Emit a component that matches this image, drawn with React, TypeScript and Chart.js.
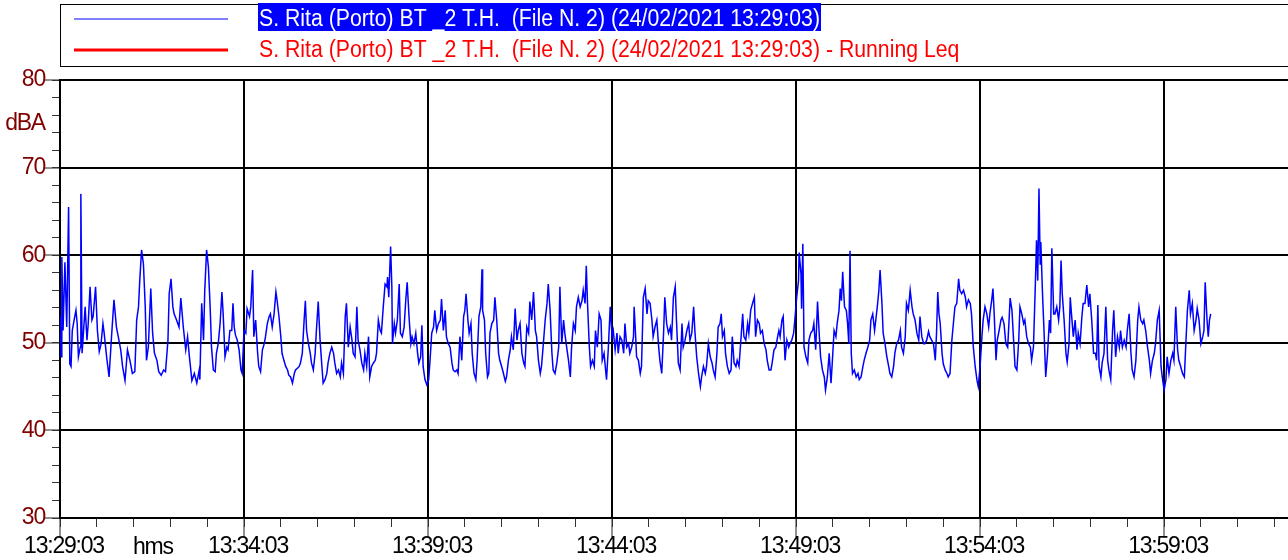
import React, { useEffect, useRef } from 'react';
import { Chart, registerables } from 'chart.js';

Chart.register(...registerables);

const seriesLabel = 'S. Rita (Porto) BT _2 T.H.  (File N. 2) (24/02/2021 13:29:03)';
const leqLabel = 'S. Rita (Porto) BT _2 T.H.  (File N. 2) (24/02/2021 13:29:03) - Running Leq';
const xUnitLabel = 'hms';
const xTickLabels = ['13:29:03', '13:34:03', '13:39:03', '13:44:03', '13:49:03', '13:54:03', '13:59:03'];
const xMajorSeconds = [0, 300, 600, 900, 1200, 1500, 1800];
const xMinorSeconds = [0, 60, 120, 180, 240, 300, 360, 420, 480, 540, 600, 660, 720, 780, 840, 900, 960, 1020, 1080, 1140, 1200, 1260, 1320, 1380, 1440, 1500, 1560, 1620, 1680, 1740, 1800, 1860, 1920, 1980];
const xMaxSeconds = 2002;
const yMajorValues = [30, 40, 50, 60, 70, 80];
const yMinorValues = [30, 32, 34, 36, 38, 40, 42, 44, 46, 48, 50, 52, 54, 56, 58, 60, 62, 64, 66, 68, 70, 72, 74, 76, 78, 80];
const yUnitLabel = 'dBA';
const yUnitAt = 75;

// [elapsed seconds since 13:29:03, level dBA]
const samples: Array<[number, number]> = [
  [0,53],[2,48.4],[3,59.8],[5,51.4],[8,59.2],[11,51.8],[14,65.5],[16,47.6],[18,47.3],[20,51.4],[23,52.6],[26,53.7],[28,52.2],[30,48.4],[33,49.5],[34,67],[36,48.8],[41,54.1],[44,50.3],[46,52.2],[49,56.4],[52,52.6],[54,53],[58,56.4],[61,51.4],[64,49],[67,49.9],[70,52.2],[72,51.1],[76,48.4],[80,46.1],[84,50.7],[88,54.9],[92,51.8],[95,50.7],[99,49.2],[102,47.3],[106,45.7],[110,49.2],[114,48],[118,46.5],[122,46.7],[125,52.6],[128,54.1],[130,57.1],[133,60.6],[136,59],[139,54.1],[141,48],[144,49.5],[148,56.2],[151,51.1],[154,48.8],[158,48],[161,46.7],[165,46.3],[169,46.9],[172,46.7],[176,50.3],[178,55.6],[181,57.3],[184,54.1],[186,53.3],[190,52.6],[194,51.8],[197,55.1],[201,51.8],[205,49.2],[208,50.7],[211,48.4],[215,45.7],[219,46.5],[223,45.4],[227,46.9],
  [228,45.8],[231,54.5],[234,50.3],[236,56],[239,60.6],[242,58.6],[245,53.7],[247,49.5],[250,46.9],[253,46.7],[255,48.8],[258,49.9],[261,52.2],[264,55.8],[266,53.3],[269,48.4],[272,49.5],[274,49.2],[277,51.4],[280,51.4],[282,54.5],[284,51.8],[286,50.9],[289,50.3],[292,49.2],[295,46.9],[297,46.5],[300,51.4],[303,51.1],[305,53.9],[309,53],[311,54.1],[314,58.3],[316,50.7],[319,52.6],[322,49],[324,47.3],[327,46.7],[330,49.2],[333,49.9],[335,50.7],[338,52.2],[341,53],[343,53.3],[346,51.8],[349,53.3],[352,55.8],[354,54.8],[357,53],[360,50.7],[362,48.8],[365,48],[368,47.3],[371,46.9],[373,46.3],[376,46.1],[379,45.4],[382,46.5],[384,46.9],[387,47.1],[390,47.3],[392,47.7],[395,48.8],[398,52.6],[400,54.8],[402,51.4],[405,49.9],[408,48.8],[410,47.7],[413,46.9],[416,48.8],[418,51.4],[421,54.7],[424,50.3],[427,47.3],[429,45.4],[432,45.8],[435,46.5],[437,47.7],[440,48.8],[443,49.5],[446,48.8],[448,47.7],[451,46.5],[454,46.9],[457,46.1],[459,47.7],[462,46.5],
  [465,53],[467,54.5],[470,49.5],[473,51.8],[476,50.3],[478,48.8],[481,48.4],[484,54.1],[486,50.3],[489,49.2],[492,47.7],[495,46.9],[497,48.8],[500,47.3],[503,50.7],[505,46.1],[508,47.3],[511,47.7],[514,48],[516,48.8],[519,52.6],[522,51.4],[524,51.1],[527,54.1],[530,56.7],[533,56.4],[534,57.5],[536,55.2],[539,61],[541,56.4],[542,49.9],[545,52.2],[547,51.1],[550,52.6],[553,56.7],[555,51.1],[558,50.7],[561,51.8],[564,55.2],[566,56.9],[569,53],[572,49.9],[574,50.7],[577,49.9],[580,51.1],[583,48.8],[585,47.7],[588,48.4],[590,52],[592,47.3],[595,45.8],[598,45.2],[601,45.8],[603,47.7],[606,51.1],[609,51.8],[611,53.7],[614,51.4],[617,52.2],[620,52.6],[622,55],[625,51.4],[628,53.7],[630,50.7],[633,49.9],[636,49.5],[639,47.7],[641,46.9],[644,46.7],[647,46.9],[649,46.5],[652,50.7],[655,48],[658,53],[660,53.7],[662,55.6],[665,52.6],[667,51.1],[670,52.2],[672,48.8],[675,46.5],[678,45.8],[680,48],[683,53],[686,54.1],[688,58.4],[689,53.7],[692,52.6],[694,48.8],[697,46.1],[699,46.5],
  [701,51.1],[704,52.2],[707,52.6],[709,55.2],[712,52.6],[715,48.8],[717,48],[720,47.3],[723,46.5],[726,45.6],[728,46.1],[731,48],[734,49.2],[736,50.7],[739,49.2],[742,53.9],[745,50.3],[747,51.4],[750,52.2],[753,48.8],[756,47.7],[758,47.3],[761,51.8],[764,51.1],[766,54.7],[769,52.6],[772,55.8],[775,51.4],[777,50.7],[780,48],[783,46.5],[785,47.3],[788,49.9],[791,52.6],[794,54.5],[796,56.7],[799,53.7],[802,48.8],[804,46.9],[807,46.5],[810,47.7],[813,49.5],[815,56.4],[818,49.9],[821,52.6],[823,51.1],[826,49.5],[829,48],[832,46.1],[834,49.5],[837,52.2],[840,51.4],[842,54.1],[845,55.2],[848,54.1],[851,54.8],[853,56],[856,54.5],[858,58.8],[860,54.5],[863,49.5],[865,47.3],[868,48],[871,47.3],[873,51.4],[876,49.5],[879,53.3],[882,52.6],[884,48],[887,48.8],[890,46.5],[891,45.8],[894,49.5],[897,54.1],[900,50.7],[902,51.4],[905,49.2],[908,51.1],[910,48.8],[913,50.7],[916,50.3],[919,48.8],[921,52.2],[924,49.5],[927,49.9],[929,48.8],[932,49.5],[935,50.7],[936,54.1],
  [938,51.4],[940,48.4],[943,48],[946,46.5],[948,47.3],[951,55.2],[954,56.2],[957,53.3],[959,54.8],[962,54.5],[965,52.6],[967,50.7],[970,51.8],[973,52.6],[976,49.5],[978,48],[981,46.5],[984,51.1],[986,55.2],[989,52.2],[992,51.1],[995,51.8],[997,50.3],[1000,55.2],[1003,56.4],[1005,52.6],[1008,47.7],[1011,46.9],[1014,52.2],[1016,49.5],[1019,50.3],[1022,51.4],[1025,52.2],[1027,50.3],[1030,51.1],[1033,54.1],[1035,51.4],[1038,48.4],[1041,46.5],[1044,45],[1046,46.1],[1049,47.3],[1052,46.5],[1054,47.3],[1057,49.9],[1060,48.4],[1063,47.7],[1065,46.9],[1068,46.1],[1071,48.8],[1073,51.8],[1076,52.2],[1078,53.3],[1080,50.7],[1083,51.4],[1085,48.8],[1088,47.3],[1091,46.5],[1094,46.9],[1096,50.7],[1099,47.7],[1102,47.3],[1104,48],[1107,47.3],[1110,50.3],[1113,53.3],[1115,50.7],[1118,50.3],[1121,52.2],[1123,51.1],[1126,53.7],[1129,54.5],[1132,55.2],[1134,50.7],[1137,52.6],[1140,52.2],[1142,51.1],[1145,51.4],[1148,49.9],[1151,49.2],[1153,48],[1156,46.9],[1159,46.9],[1161,47.7],[1164,49.2],[1167,49.5],[1170,50.7],[1172,51.4],
  [1174,50.7],[1177,52.6],[1179,53],[1182,48],[1185,50.3],[1188,49.5],[1190,49.9],[1193,50.3],[1196,51.1],[1198,52.6],[1201,55.2],[1204,57.1],[1205,60.3],[1208,57.9],[1209,53.9],[1211,61.3],[1213,49.5],[1216,48.4],[1219,47.7],[1221,50.3],[1224,51.1],[1227,51.4],[1229,52.2],[1232,49.2],[1235,54.7],[1238,50.7],[1240,48.4],[1243,46.9],[1246,46.1],[1248,44.6],[1251,46.1],[1254,48.8],[1257,45.4],[1259,47.7],[1262,51.4],[1265,50.7],[1267,52.2],[1270,53.7],[1272,56.2],[1274,54.8],[1276,58.1],[1279,54.1],[1282,53.7],[1284,52.2],[1286,49.9],[1288,60.5],[1290,48.8],[1292,46.5],[1295,46.9],[1298,46.1],[1301,46.5],[1303,45.8],[1306,46.1],[1309,47.3],[1311,48],[1314,48.8],[1317,49.5],[1320,50.3],[1322,52.6],[1325,53.3],[1328,51.4],[1330,52.6],[1333,54.5],[1335,56],[1337,58.3],[1340,54.5],[1342,51.1],[1345,49.9],[1348,48.4],[1351,47.3],[1353,46.5],[1356,46.1],[1359,47.3],[1361,48.8],[1364,49.9],[1367,50.3],[1370,51.4],[1372,49.5],[1375,48.8],[1378,50.7],[1380,54.5],[1383,53.7],[1386,56],[1389,54.1],[1391,53.3],[1394,52.6],[1397,51.1],[1400,50.3],[1402,53],[1405,50.7],[1408,49.9],
  [1410,49.9],[1413,50.3],[1416,51.3],[1418,50.7],[1421,50.3],[1424,49.9],[1427,48],[1429,51.1],[1431,55.8],[1433,53.3],[1435,52.2],[1438,48.8],[1440,47.6],[1443,46.9],[1446,46.5],[1448,46.1],[1451,46.5],[1454,50.3],[1457,52.6],[1459,54.1],[1462,54.5],[1465,57.3],[1467,56],[1470,55.6],[1473,56],[1476,55.2],[1478,54.1],[1481,54.9],[1484,54.5],[1486,53.3],[1489,49.5],[1492,47.3],[1495,45.7],[1497,45],[1500,47.3],[1503,50.7],[1505,52.6],[1508,54.1],[1511,53.3],[1514,51.8],[1516,53.3],[1519,54.9],[1521,56.2],[1523,53.3],[1526,48],[1528,50.3],[1531,51.4],[1534,52.6],[1536,52.9],[1539,52.2],[1542,49.9],[1545,49.5],[1547,52.2],[1549,55.1],[1552,53.7],[1554,51.1],[1557,47.3],[1560,46.9],[1563,50.3],[1565,54.1],[1568,53.3],[1571,52.2],[1573,52.6],[1576,50.7],[1579,49.9],[1582,49.5],[1584,48],[1587,49.5],[1590,56.4],[1592,61.7],[1594,57.1],[1596,67.6],[1598,59],[1599,61.5],[1602,55.2],[1604,51.8],[1607,46.1],[1610,48.8],[1613,52.6],[1615,51.1],[1617,60.8],[1620,53.3],[1622,53.3],[1625,54.1],[1628,52.6],[1630,54.1],[1632,59.4],[1634,55.6],[1637,52.6],[1640,48.8],[1642,47.8],[1645,49.9],
  [1647,55.2],[1649,53.3],[1652,50.7],[1655,52.6],[1658,49.2],[1660,51.1],[1663,49.9],[1666,53],[1668,54.5],[1671,54.5],[1674,56.6],[1677,54.1],[1679,55.6],[1682,52.6],[1685,48.8],[1688,48.8],[1690,48],[1692,54.3],[1694,47.3],[1697,46.1],[1699,47.7],[1702,48.8],[1705,54.1],[1708,48],[1710,46.9],[1713,45.8],[1716,51.4],[1718,53.7],[1721,48.4],[1724,50.7],[1727,49.5],[1729,51.4],[1732,49.5],[1735,50.3],[1738,49.5],[1740,51.4],[1743,53.3],[1746,48.8],[1748,46.9],[1751,46.1],[1754,48],[1757,52.6],[1759,54.1],[1762,52.6],[1765,52.2],[1767,52.6],[1770,51.4],[1773,49.5],[1776,48],[1778,46.5],[1781,48],[1784,48.8],[1786,49.9],[1789,52.6],[1792,53.7],[1795,47.3],[1797,46.1],[1800,44.6],[1803,45.8],[1805,48.4],[1808,46.5],[1811,48],[1814,48.8],[1816,48],[1819,54.1],[1822,49.2],[1824,48],[1827,47.3],[1830,46.5],[1833,46.1],[1835,49.2],[1838,53.7],[1841,56],[1843,53.3],[1846,54.5],[1849,51.4],[1852,52.6],[1854,53.9],[1857,52.6],[1860,49.9],[1863,50.7],[1865,51.4],[1867,56.9],[1870,52.6],[1872,50.7],[1874,52.6],[1876,53.3]
];

const FONT_FAMILY = '"Liberation Sans", Arial, sans-serif';
const TICK_SPACING = '-1.2px';

const legendPlugin = {
  id: 'soundLegend',
  beforeDraw(chart: any) {
    const ctx = chart.ctx;
    ctx.save();
    ctx.fillStyle = '#ffffff';
    ctx.fillRect(0, 0, chart.width, chart.height);
    ctx.restore();
    (ctx as any).letterSpacing = TICK_SPACING;
  },
  afterDraw(chart: any) {
    const ctx = chart.ctx;
    const ds = chart.data.datasets;
    ctx.save();
    (ctx as any).letterSpacing = '0px';
    ctx.lineWidth = 1;
    ctx.strokeStyle = '#000000';
    ctx.strokeRect(60.5, 4.5, 1400, 62);

    ctx.strokeStyle = ds[0].borderColor;
    ctx.lineWidth = 1;
    ctx.beginPath();
    ctx.moveTo(74, 19);
    ctx.lineTo(228, 19);
    ctx.stroke();

    ctx.strokeStyle = ds[1].borderColor;
    ctx.lineWidth = 3;
    ctx.beginPath();
    ctx.moveTo(74, 50);
    ctx.lineTo(228, 50);
    ctx.stroke();

    ctx.font = '23px ' + FONT_FAMILY;
    ctx.textBaseline = 'alphabetic';
    ctx.textAlign = 'left';
    const w0 = ctx.measureText(ds[0].label).width;
    const sx = 561 / w0;

    ctx.fillStyle = '#0000ff';
    ctx.fillRect(258, 3, 563, 28);
    ctx.save();
    ctx.translate(259, 26);
    ctx.scale(sx, 1);
    ctx.fillStyle = '#ffffff';
    ctx.fillText(ds[0].label, 0, 0);
    ctx.restore();

    ctx.save();
    ctx.translate(259, 57);
    ctx.scale(sx, 1);
    ctx.fillStyle = '#ff0000';
    ctx.fillText(ds[1].label, 0, 0);
    ctx.restore();

    (ctx as any).letterSpacing = TICK_SPACING;
    ctx.font = '23px ' + FONT_FAMILY;
    ctx.fillStyle = '#000000';
    ctx.fillText(xUnitLabel, 133, 554);
    ctx.restore();
  },
};

export default function App() {
  const canvasRef = useRef<HTMLCanvasElement | null>(null);

  useEffect(() => {
    if (!canvasRef.current) return;
    const tickFont = { family: FONT_FAMILY, size: 23 };
    const chart = new Chart(canvasRef.current, {
      type: 'line',
      data: {
        datasets: [
          {
            label: seriesLabel,
            data: samples.map(([t, v]) => ({ x: t, y: v })),
            borderColor: '#0000ff',
            borderWidth: 1.5,
            pointRadius: 0,
            tension: 0,
            fill: false,
            xAxisID: 'x',
            yAxisID: 'y',
          },
          {
            label: leqLabel,
            data: [],
            borderColor: '#ff0000',
            borderWidth: 3,
            pointRadius: 0,
            fill: false,
            xAxisID: 'x',
            yAxisID: 'y',
          },
        ],
      },
      options: {
        responsive: false,
        animation: false,
        devicePixelRatio: 1,
        layout: { padding: { top: 80, left: 0, right: 0, bottom: 0 } },
        plugins: { legend: { display: false }, tooltip: { enabled: false } },
        scales: {
          x: {
            type: 'linear',
            position: 'bottom',
            weight: 1,
            min: 0,
            max: xMaxSeconds,
            afterBuildTicks: (s: any) => {
              s.ticks = xMajorSeconds.map((v) => ({ value: v }));
            },
            afterFit: (s: any) => {
              s.height = 42;
            },
            ticks: {
              autoSkip: false,
              maxRotation: 0,
              minRotation: 0,
              font: tickFont,
              color: '#000000',
              padding: -4,
              labelOffset: 4,
              callback: (v: any) => {
                const i = xMajorSeconds.indexOf(Number(v));
                return i >= 0 ? xTickLabels[i] : '';
              },
            },
            grid: { color: '#000000', lineWidth: 2, tickLength: 19, tickWidth: 1, tickColor: '#222222' },
            border: { display: true, color: '#000000', width: 2 },
          },
          x2: {
            type: 'linear',
            position: 'bottom',
            weight: 0,
            min: 0,
            max: xMaxSeconds,
            afterBuildTicks: (s: any) => {
              s.ticks = xMinorSeconds.map((v) => ({ value: v }));
            },
            afterFit: (s: any) => {
              s.height = 0;
            },
            ticks: { display: false },
            grid: { drawOnChartArea: false, tickLength: 9, tickWidth: 1, tickColor: '#333333' },
            border: { display: false },
          },
          y: {
            type: 'linear',
            position: 'left',
            weight: 1,
            min: 30,
            max: 80,
            afterBuildTicks: (s: any) => {
              s.ticks = [...yMajorValues, yUnitAt].sort((a, b) => a - b).map((v) => ({ value: v }));
            },
            afterFit: (s: any) => {
              s.width = 60;
            },
            ticks: {
              autoSkip: false,
              font: tickFont,
              color: '#800000',
              padding: -1,
              callback: (v: any) => (Number(v) === yUnitAt ? yUnitLabel : String(v)),
            },
            grid: {
              color: (c: any) => (c.tick && c.tick.value === yUnitAt ? 'rgba(0,0,0,0)' : '#000000'),
              tickColor: (c: any) => (c.tick && c.tick.value === yUnitAt ? 'rgba(0,0,0,0)' : '#222222'),
              lineWidth: 2,
              tickWidth: 1,
              tickLength: 16,
            },
            border: { display: true, color: '#000000', width: 2 },
          },
          y2: {
            type: 'linear',
            position: 'left',
            weight: 0,
            min: 30,
            max: 80,
            afterBuildTicks: (s: any) => {
              s.ticks = yMinorValues.map((v) => ({ value: v }));
            },
            afterFit: (s: any) => {
              s.width = 0;
            },
            ticks: { display: false },
            grid: { drawOnChartArea: false, tickLength: 8, tickWidth: 1, tickColor: '#333333' },
            border: { display: false },
          },
        },
      } as any,
      plugins: [legendPlugin],
    });
    return () => chart.destroy();
  }, []);

  return (
    <div style={{ position: 'absolute', left: 0, top: 0, width: 1288, height: 560, background: '#ffffff' }}>
      <canvas ref={canvasRef} width={1288} height={560} style={{ display: 'block', width: 1288, height: 560 }} />
    </div>
  );
}
